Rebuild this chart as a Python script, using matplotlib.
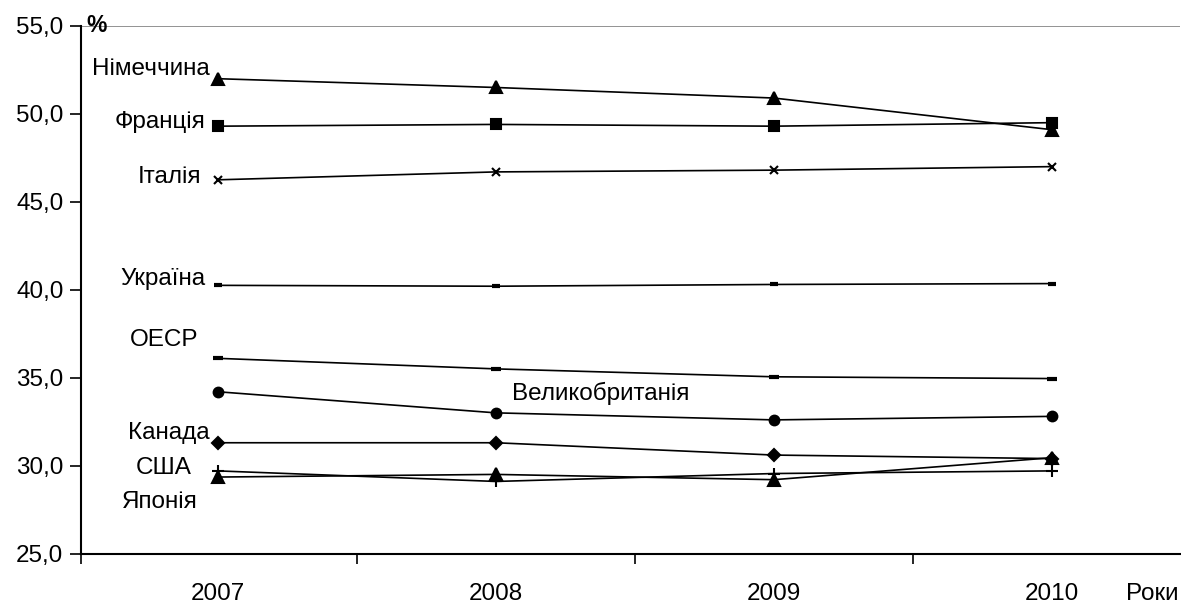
import matplotlib
matplotlib.use("Agg")
import matplotlib.pyplot as plt

plt.rcParams['font.family'] = ['Liberation Sans', 'DejaVu Sans']
FS = 17.5

years = ["2007", "2008", "2009", "2010"]

germany = [52.0, 51.5, 50.9, 49.1]
france = [49.3, 49.4, 49.3, 49.5]
italy = [46.25, 46.7, 46.8, 47.0]
ukraine = [40.25, 40.2, 40.3, 40.35]
oecd = [36.1, 35.5, 35.05, 34.95]
uk = [34.2, 33.0, 32.6, 32.8]
canada = [31.3, 31.3, 30.6, 30.4]
usa = [29.7, 29.1, 29.55, 29.7]
japan = [29.35, 29.5, 29.2, 30.45]

series = [
    (germany, '^', 8),
    (france, 's', 7),
    (italy, 'x', 6),
    (ukraine, '_', 6),
    (oecd, '_', 7),
    (uk, 'o', 7),
    (canada, 'D', 6),
    (usa, '+', 9),
    (japan, '^', 8),
]

fig = plt.figure(figsize=(11.81, 6.03), dpi=100)
ax = fig.add_axes([0.069, 0.082, 0.93, 0.875])

x = range(len(years))
for vals, mk, ms in series:
    mew = 3 if mk == '_' else 1.5
    ax.plot(x, vals, color='black', lw=1.2, marker=mk, markersize=ms,
            markeredgewidth=mew, markerfacecolor='black', markeredgecolor='black')

ax.axhline(55, color='#808080', lw=1.2)

ax.set_ylim(25, 55)
ax.set_xlim(-0.49, 3.46)
ax.set_yticks([25, 30, 35, 40, 45, 50, 55])
ax.set_yticklabels(["25,0", "30,0", "35,0", "40,0", "45,0", "50,0", "55,0"], fontsize=FS)
ax.set_xticks([-0.49, 0.5, 1.5, 2.5])
ax.set_xticklabels([])
# year labels plus the axis title "Роки" sit on the same line
ax.set_xticks(list(x) + [3.36], minor=True)
ax.set_xticklabels(years + ["Роки"], minor=True, fontsize=FS)
ax.tick_params(axis='x', which='minor', length=0, pad=21)
ax.tick_params(axis='x', which='major', length=7, width=1.2, direction='out')
ax.tick_params(axis='y', length=8, width=1.2, direction='out', pad=5)

for s in ['top', 'right']:
    ax.spines[s].set_visible(False)
for s in ['left', 'bottom']:
    ax.spines[s].set_linewidth(1.5)

ax.text(0.004, 1.0, "%", transform=ax.transAxes, fontsize=FS - 1, fontweight='bold',
        ha='left', va='center')

labels = [
    ("Німеччина", -0.03, 52.2, 'right'),
    ("Франція", -0.043, 49.2, 'right'),
    ("Італія", -0.061, 46.08, 'right'),
    ("Україна", -0.043, 40.28, 'right'),
    ("ОЕСР", -0.068, 36.78, 'right'),
    ("Великобританія", 1.059, 33.71, 'left'),
    ("Канада", -0.03, 31.52, 'right'),
    ("США", -0.196, 29.55, 'center'),
    ("Японія", -0.209, 27.6, 'center'),
]
for txt, lx, ly, ha in labels:
    ax.text(lx, ly, txt, fontsize=FS, ha=ha, va='baseline')

fig.savefig("out.png", dpi=100)
